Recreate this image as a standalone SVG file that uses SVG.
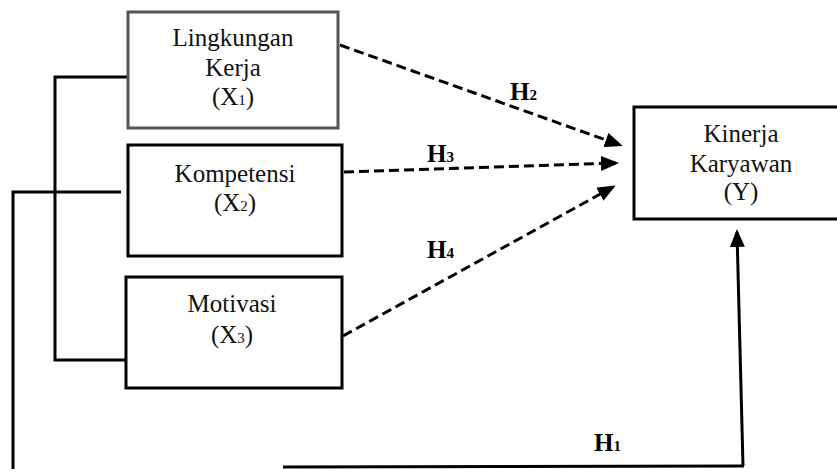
<svg xmlns="http://www.w3.org/2000/svg" width="837" height="469" viewBox="0 0 837 469">
<style>
.box{fill:#fff;stroke:#000;stroke-width:3}
.gray{stroke:#555}
.t{font-family:"Liberation Serif","Times New Roman",serif;font-size:25px;fill:#111;text-anchor:middle}
.h{font-family:"Liberation Serif","Times New Roman",serif;font-size:25px;font-weight:bold;fill:#000}
.sub{font-size:15px}
.ln{fill:none;stroke:#000;stroke-width:3}
.dash{fill:none;stroke:#000;stroke-width:3;stroke-dasharray:10 5}
</style>
<defs>
<marker id="ah" markerWidth="6" markerHeight="5" refX="5" refY="2.5" orient="auto" markerUnits="strokeWidth">
<path d="M0,0 L6,2.5 L0,5 Z" fill="#000"/>
</marker>
</defs>
<g id="connectors">
<polyline class="ln" points="128,77 55,77 55,360 126,360"/>
<polyline class="ln" points="121,192 13,192 13,469"/>
<line class="ln" x1="283" y1="467" x2="744" y2="466"/>
<line class="ln" x1="743" y1="466" x2="737" y2="232" marker-end="url(#ah)"/>
<line class="dash" x1="340" y1="45" x2="620" y2="145" marker-end="url(#ah)"/>
<line class="dash" x1="344" y1="172" x2="616" y2="163" marker-end="url(#ah)"/>
<line class="dash" x1="343" y1="336" x2="613" y2="187" marker-end="url(#ah)"/>
<text class="h" x="510" y="100">H<tspan class="sub">2</tspan></text>
<text class="h" x="427" y="162">H<tspan class="sub">3</tspan></text>
<text class="h" x="427" y="258">H<tspan class="sub">4</tspan></text>
<text class="h" x="594" y="451">H<tspan class="sub">1</tspan></text>
</g>
<g id="x1">
<rect class="box gray" x="128" y="12" width="210" height="116"/>
<text class="t" x="233" y="46">Lingkungan</text>
<text class="t" x="233" y="76">Kerja</text>
<text class="t" x="233" y="105">(X<tspan class="sub">1</tspan>)</text>
</g>
<g id="x2">
<rect class="box" x="128" y="145" width="214" height="111"/>
<text class="t" x="235" y="182">Kompetensi</text>
<text class="t" x="235" y="211">(X<tspan class="sub">2</tspan>)</text>
</g>
<g id="x3">
<rect class="box" x="126" y="277" width="216" height="111"/>
<text class="t" x="232" y="312">Motivasi</text>
<text class="t" x="232" y="343">(X<tspan class="sub">3</tspan>)</text>
</g>
<g id="y">
<rect class="box" x="634" y="107" width="210" height="112"/>
<text class="t" x="741" y="142">Kinerja</text>
<text class="t" x="741" y="172">Karyawan</text>
<text class="t" x="741" y="200">(Y)</text>
</g>
</svg>
